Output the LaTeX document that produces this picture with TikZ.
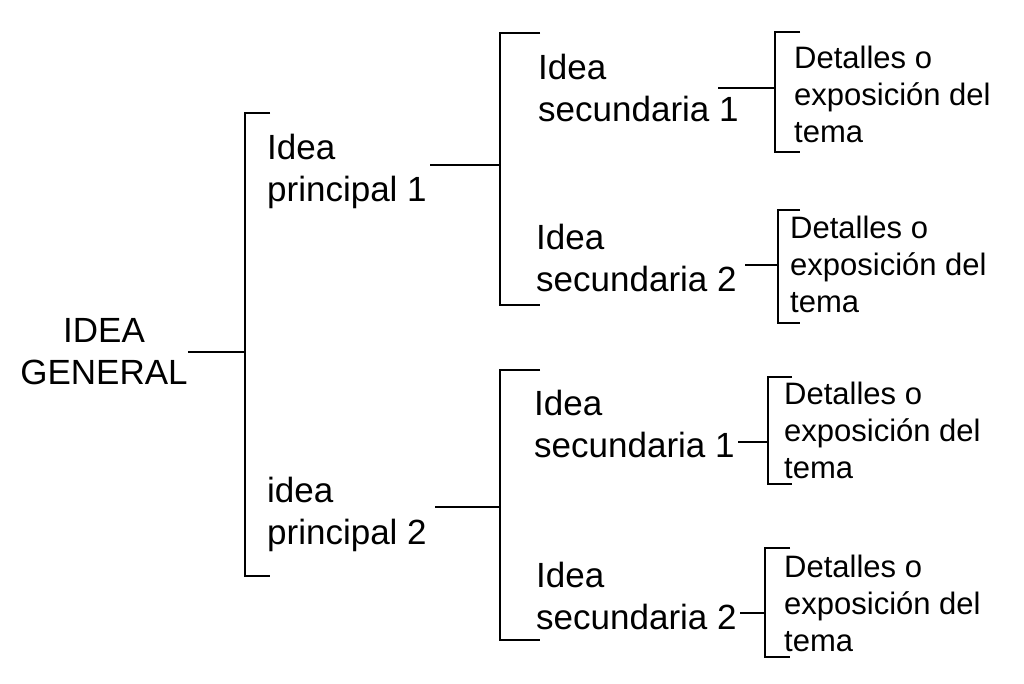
\documentclass[tikz,border=0pt]{standalone}
\usepackage{fontspec}
\setmainfont{Liberation Sans}
\begin{document}
\begin{tikzpicture}[x=1pt,y=-1pt,
  big/.style={font=\fontsize{35}{42}\selectfont,align=left,inner sep=0pt},
  det/.style={font=\fontsize{31}{37}\selectfont,align=left,inner sep=0pt,anchor=west},
  ln/.style={line width=1.2pt}]
\useasboundingbox (0,0) rectangle (1024,683);
\node[big,align=center] (g) at (104,352) {IDEA\\GENERAL};
\node[big,anchor=west] (p1) at (267,171) {Idea\\principal 1};
\node[big,anchor=west] (p2) at (267,514) {idea\\principal 2};
\node[big,anchor=west] (s1) at (538,88) {Idea\\secundaria 1};
\node[big,anchor=west] (s2) at (536,258) {Idea\\secundaria 2};
\node[big,anchor=west] (s3) at (534,424) {Idea\\secundaria 1};
\node[big,anchor=west] (s4) at (536,596) {Idea\\secundaria 2};
\node[det] (d1) at (794,94) {Detalles o\\exposición del\\tema};
\node[det] (d2) at (790,264) {Detalles o\\exposición del\\tema};
\node[det] (d3) at (784,430) {Detalles o\\exposición del\\tema};
\node[det] (d4) at (784,603) {Detalles o\\exposición del\\tema};
% brackets
\coordinate (b0) at (245,352);
\draw[ln] (270,113) -- (245,113) -- (245,576) -- (270,576);
\draw[ln] (g.east) -- (b0);
\coordinate (b1) at (500,165);
\draw[ln] (540,33) -- (500,33) -- (500,305) -- (540,305);
\draw[ln] (430,165) -- (b1);
\coordinate (b2) at (500,507);
\draw[ln] (540,370) -- (500,370) -- (500,640) -- (540,640);
\draw[ln] (435,507) -- (b2);
\coordinate (c1) at (775,88);
\draw[ln] (800,32) -- (775,32) -- (775,152) -- (800,152);
\draw[ln] (718,88) -- (c1);
\coordinate (c2) at (778,265);
\draw[ln] (800,210) -- (778,210) -- (778,323) -- (800,323);
\draw[ln] (745,265) -- (c2);
\coordinate (c3) at (768,442);
\draw[ln] (792,377) -- (768,377) -- (768,484) -- (792,484);
\draw[ln] (738,442) -- (c3);
\coordinate (c4) at (765,613);
\draw[ln] (790,548) -- (765,548) -- (765,657) -- (790,657);
\draw[ln] (740,613) -- (c4);
\end{tikzpicture}
\end{document}
